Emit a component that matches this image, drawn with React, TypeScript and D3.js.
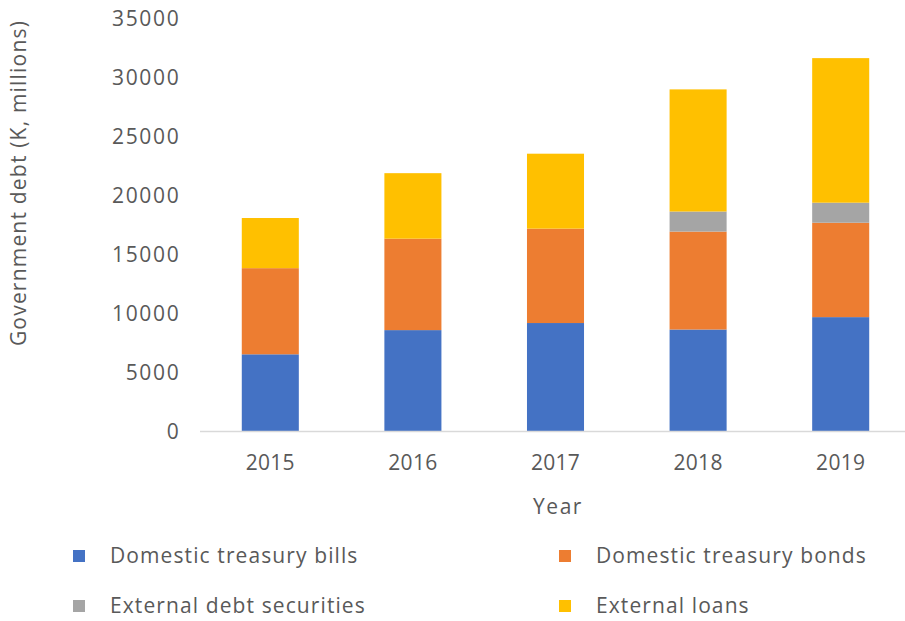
import React from "react";
import * as d3 from "d3";

const years = ["2015", "2016", "2017", "2018", "2019"];
const seriesNames = [
  "Domestic treasury bills",
  "Domestic treasury bonds",
  "External debt securities",
  "External loans",
];
const bills = [6500, 8550, 9150, 8600, 9650];
const bonds = [7300, 7750, 8000, 8300, 8000];
const securities = [0, 0, 0, 1700, 1700];
const loans = [4250, 5550, 6350, 10350, 12250];
const colors = ["#4472C4", "#ED7D31", "#A5A5A5", "#FFC000"];
const yTicks = [0, 5000, 10000, 15000, 20000, 25000, 30000, 35000];

const W = 905;
const H = 621;
const font = "'Open Sans', sans-serif";
const textColor = "#595959";

export default function App() {
  const rows = years.map((y, i) => ({
    year: y,
    s0: bills[i],
    s1: bonds[i],
    s2: securities[i],
    s3: loans[i],
  }));
  const keys = ["s0", "s1", "s2", "s3"];
  const stacked = d3.stack<any>().keys(keys)(rows);

  const x = d3
    .scaleBand()
    .domain(years)
    .range([199, 912])
    .paddingInner(0.6)
    .paddingOuter(0.3);
  const y = d3.scaleLinear().domain([0, 35000]).range([431, 18]);

  const legendPos = [
    { x: 73, y: 550 },
    { x: 559, y: 550 },
    { x: 73, y: 600 },
    { x: 559, y: 600 },
  ];

  return (
    <svg
      width={W}
      height={H}
      style={{ position: "absolute", left: 0, top: 0, background: "#fff" }}
    >
      {stacked.map((layer, li) =>
        layer.map((d, i) =>
          d[1] - d[0] > 0 ? (
            <rect
              key={`${li}-${i}`}
              x={x(years[i])}
              y={y(d[1])}
              width={x.bandwidth()}
              height={y(d[0]) - y(d[1])}
              fill={colors[li]}
            />
          ) : null
        )
      )}
      <line x1={200} x2={905} y1={431.5} y2={431.5} stroke="#D9D9D9" strokeWidth={1.5} />
      {yTicks.map((t) => (
        <text
          key={t}
          x={180.5}
          y={y(t) + 1}
          dy="0.35em"
          textAnchor="end"
          fontFamily={font}
          fontSize={21}
          letterSpacing={1.7}
          fill={textColor}
        >
          {t}
        </text>
      ))}
      {years.map((yr) => (
        <text
          key={yr}
          x={(x(yr) as number) + x.bandwidth() / 2}
          y={463}
          dy="0.35em"
          textAnchor="middle"
          fontFamily={font}
          fontSize={21}
          letterSpacing={0.3}
          fill={textColor}
        >
          {yr}
        </text>
      ))}
      <text
        x={558}
        y={507}
        dy="0.35em"
        textAnchor="middle"
        fontFamily={font}
        fontSize={21}
        letterSpacing={1.5}
        fill={textColor}
      >
        Year
      </text>
      <text
        transform={`translate(19,183) rotate(-90)`}
        dy="0.35em"
        textAnchor="middle"
        fontFamily={font}
        fontSize={21}
        letterSpacing={1.2}
        fill={textColor}
      >
        Government debt (K, millions)
      </text>
      {seriesNames.map((name, i) => (
        <g key={name}>
          <rect x={legendPos[i].x} y={legendPos[i].y} width={12} height={12} fill={colors[i]} />
          <text
            x={legendPos[i].x + 37}
            y={legendPos[i].y + 6}
            dy="0.35em"
            fontFamily={font}
            fontSize={21}
            letterSpacing={1.1}
            fill={textColor}
          >
            {name}
          </text>
        </g>
      ))}
    </svg>
  );
}
